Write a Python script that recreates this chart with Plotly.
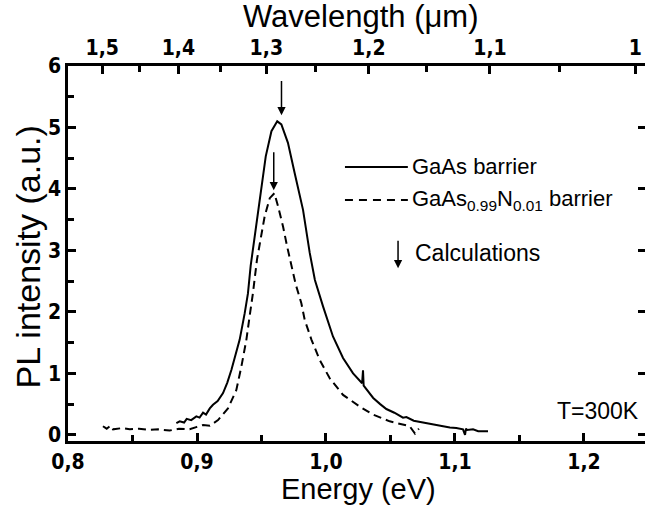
import plotly.graph_objects as go

# ---- data ----
gaas_E = [0.884, 0.8866, 0.890, 0.892, 0.8955, 0.8995, 0.902, 0.9047, 0.907, 0.9099, 0.9124, 0.916,
          0.9202, 0.9235, 0.9267, 0.9331, 0.937, 0.9395, 0.9416, 0.946, 0.9499, 0.9533, 0.9577,
          0.9622, 0.9654, 0.9705, 0.9757, 0.9822, 0.9874, 0.9914, 0.9977, 1.0054, 1.0132, 1.021,
          1.0280, 1.0287, 1.0292, 1.0339, 1.0366, 1.042, 1.0468, 1.053, 1.0597, 1.0623, 1.068,
          1.0752, 1.082, 1.0868, 1.0907, 1.096, 1.101, 1.1062, 1.1078, 1.1085, 1.1095, 1.114,
          1.118, 1.1256]
gaas_I = [0.19, 0.22, 0.20, 0.26, 0.24, 0.30, 0.28, 0.36, 0.33, 0.43, 0.49, 0.55,
          0.68, 0.85, 1.06, 1.55, 1.98, 2.30, 2.75, 3.45, 4.04, 4.53, 4.94,
          5.10, 5.05, 4.75, 4.26, 3.66, 2.96, 2.52, 2.09, 1.60, 1.25, 1.00,
          0.84, 1.05, 0.80, 0.68, 0.60, 0.50, 0.42, 0.36, 0.28, 0.29, 0.23,
          0.20, 0.17, 0.15, 0.14, 0.12, 0.11, 0.09, 0.00, 0.10, 0.08, 0.09,
          0.06, 0.06]

gaasn_E = [0.8271, 0.8300, 0.8330, 0.8349, 0.8420, 0.8478, 0.8550, 0.8633, 0.8700, 0.8788,
           0.8860, 0.8943, 0.9000, 0.9047, 0.9100, 0.9163, 0.924, 0.9305, 0.9344, 0.9383,
           0.9408, 0.9434, 0.9465, 0.9494, 0.9525, 0.9564, 0.9600, 0.9628, 0.9667, 0.9698,
           0.9732, 0.9765, 0.9809, 0.9835, 0.9887, 0.9951, 1.0029, 1.0132, 1.0261, 1.0364,
           1.0494, 1.0600, 1.0649, 1.0690, 1.0720]
gaasn_I = [0.14, 0.10, 0.15, 0.09, 0.11, 0.09, 0.10, 0.08, 0.09, 0.07,
           0.10, 0.09, 0.13, 0.16, 0.15, 0.24, 0.43, 0.73, 1.11, 1.55,
           1.93, 2.31, 2.85, 3.18, 3.56, 3.85, 3.93, 3.72, 3.39, 3.07,
           2.74, 2.45, 2.14, 1.87, 1.55, 1.22, 0.92, 0.65, 0.46, 0.33,
           0.22, 0.16, 0.14, 0.02, 0.10]

calc_E = [0.9655, 0.9595]
calc_top = [5.78, 4.62]
calc_bottom = [5.20, 3.98]

energy_ticks = [0.8, 0.9, 1.0, 1.1, 1.2]
energy_labels = ["0,8", "0,9", "1,0", "1,1", "1,2"]
energy_minor = [0.85, 0.95, 1.05, 1.15]
wl_ticks = [1.5, 1.4, 1.3, 1.2, 1.1, 1.0]
wl_labels = ["1,5", "1,4", "1,3", "1,2", "1,1", "1"]
wl_minor = [1.45, 1.35, 1.25, 1.15, 1.05]
y_ticks = [0, 1, 2, 3, 4, 5, 6]
y_minor = [0.5, 1.5, 2.5, 3.5, 4.5, 5.5]

HC = 1.23984  # eV*um
XR = [0.8, 1.2473]
YR = [-0.1, 6.0]

TITLE_FONT = "Liberation Sans, Arial, sans-serif"
TICK_FONT = "Liberation Sans Narrow, DejaVu Sans Condensed, Arial Narrow, Liberation Sans, sans-serif"

fig = go.Figure()
fig.add_trace(go.Scatter(x=gaas_E, y=gaas_I, mode="lines",
                         line=dict(color="black", width=2), showlegend=False))
fig.add_trace(go.Scatter(x=gaasn_E, y=gaasn_I, mode="lines",
                         line=dict(color="black", width=2, dash="8px,5px"), showlegend=False))
# invisible traces to activate secondary axes
fig.add_trace(go.Scatter(x=[XR[0]], y=[0], xaxis="x2", yaxis="y", mode="markers",
                         marker=dict(opacity=0), showlegend=False, hoverinfo="skip"))
fig.add_trace(go.Scatter(x=[XR[0]], y=[0], xaxis="x", yaxis="y2", mode="markers",
                         marker=dict(opacity=0), showlegend=False, hoverinfo="skip"))

for e, t, b in zip(calc_E, calc_top, calc_bottom):
    fig.add_annotation(x=e, y=b, ax=e, ay=t, xref="x", yref="y", axref="x", ayref="y",
                       text="", showarrow=True, arrowhead=2, arrowsize=1.1,
                       arrowwidth=1.5, arrowcolor="black")

axis_common = dict(showline=True, linecolor="black", linewidth=2.5, ticks="inside",
                   tickcolor="black", tickwidth=2.5, ticklen=8, showgrid=False,
                   zeroline=False, automargin=False)
tick_font = dict(family=TICK_FONT, size=21, color="black", weight="bold")

fig.update_layout(
    width=645, height=509,
    margin=dict(l=68, r=0, t=66, b=68, autoexpand=False),
    paper_bgcolor="white", plot_bgcolor="white",
    xaxis=dict(range=XR, tickmode="array", tickvals=energy_ticks, ticktext=energy_labels,
               tickfont=tick_font,
               minor=dict(tickmode="array", tickvals=energy_minor, ticks="inside",
                          ticklen=6, tickwidth=2.5, tickcolor="black"),
               **axis_common),
    xaxis2=dict(range=XR, overlaying="x", side="top", anchor="y", tickmode="array",
                tickvals=[HC / w for w in wl_ticks], ticktext=wl_labels,
                tickfont=tick_font,
                minor=dict(tickmode="array", tickvals=[HC / w for w in wl_minor], ticks="inside",
                           ticklen=6, tickwidth=2.5, tickcolor="black"),
                **axis_common),
    yaxis=dict(range=YR, tickmode="array", tickvals=y_ticks, ticktext=[str(v) for v in y_ticks],
               tickfont=tick_font,
               minor=dict(tickmode="array", tickvals=y_minor, ticks="inside",
                          ticklen=6, tickwidth=2.5, tickcolor="black"),
               **axis_common),
    yaxis2=dict(range=YR, overlaying="y", side="right", anchor="x", tickmode="array",
                tickvals=y_ticks, showticklabels=False, showline=False, ticks="inside",
                tickcolor="black", tickwidth=2.5, ticklen=7, showgrid=False, zeroline=False,
                automargin=False),
    showlegend=False,
)

# axis titles
fig.add_annotation(xref="paper", yref="paper", x=0.504, y=-0.128, xanchor="center", yanchor="middle",
                   text="Energy (eV)", showarrow=False,
                   font=dict(family=TITLE_FONT, size=29, color="black"))
fig.add_annotation(xref="paper", yref="paper", x=0.508, y=1.131, xanchor="center", yanchor="middle",
                   text="Wavelength (μm)", showarrow=False,
                   font=dict(family=TITLE_FONT, size=31, color="black"))
fig.add_annotation(xref="paper", yref="paper", x=-0.069, y=0.49, xanchor="center", yanchor="middle",
                   text="PL intensity (a.u.)", showarrow=False, textangle=-90,
                   font=dict(family=TITLE_FONT, size=34, color="black"))

# legend drawn manually
fig.add_shape(type="line", xref="paper", yref="paper", x0=0.480, x1=0.589, y0=0.731, y1=0.731,
              line=dict(color="black", width=2))
fig.add_shape(type="line", xref="paper", yref="paper", x0=0.480, x1=0.589, y0=0.643, y1=0.643,
              line=dict(color="black", width=2, dash="8px,6px"))
fig.add_annotation(xref="x domain", yref="y domain", x=0.572, y=0.461, ax=0.572, ay=0.538,
                   axref="x domain", ayref="y domain", text="", showarrow=True, arrowhead=2,
                   arrowsize=1.1, arrowwidth=1.5, arrowcolor="black")
leg_font = dict(family=TITLE_FONT, size=22, color="black")
fig.add_annotation(xref="paper", yref="paper", x=0.592, y=0.731, xanchor="left", yanchor="middle",
                   text="GaAs barrier", showarrow=False, font=leg_font)
fig.add_annotation(xref="paper", yref="paper", x=0.592, y=0.643, xanchor="left", yanchor="middle",
                   text="GaAs<sub>0.99</sub>N<sub>0.01</sub> barrier", showarrow=False, font=leg_font)
fig.add_annotation(xref="paper", yref="paper", x=0.598, y=0.501, xanchor="left", yanchor="middle",
                   text="Calculations", showarrow=False, font=dict(family=TITLE_FONT, size=23, color="black"))
fig.add_annotation(xref="paper", yref="paper", x=0.993, y=0.08, xanchor="right", yanchor="middle",
                   text="T=300K", showarrow=False, font=dict(family=TITLE_FONT, size=23, color="black"))

fig.write_html("out.html", config={"displayModeBar": False},
               post_script="document.body.style.margin='0';document.body.style.overflow='hidden';")
